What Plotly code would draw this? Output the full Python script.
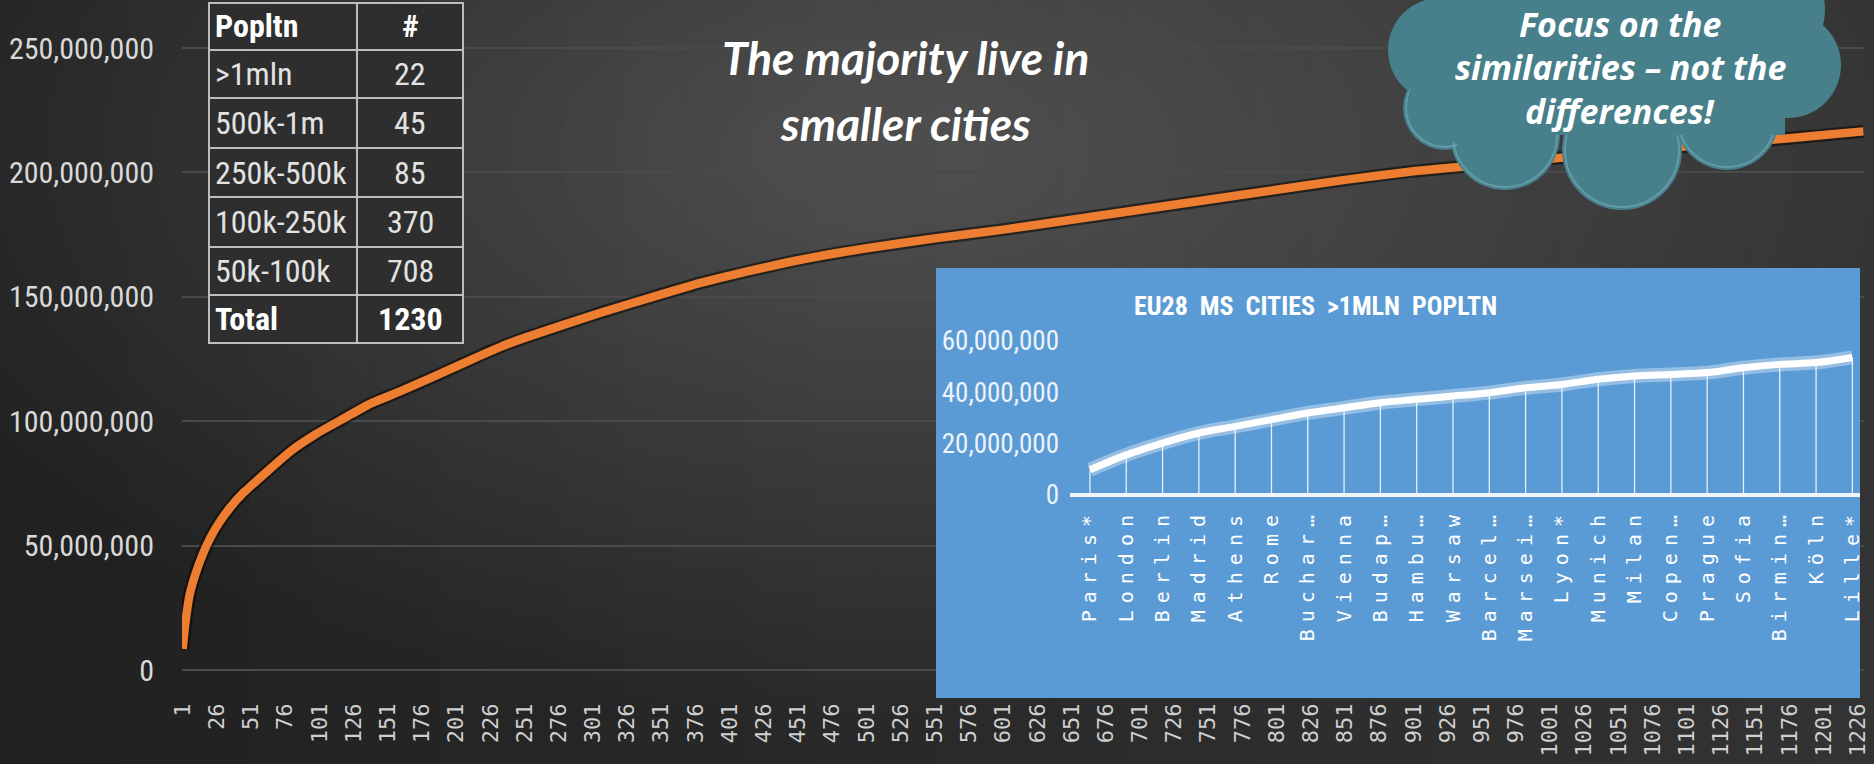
import plotly.graph_objects as go

# ---------------- data ----------------
# Main chart: cumulative population of EU cities (ranked), read at sample ranks
city_rank = [1, 3, 6, 10, 16, 22, 28, 36, 45, 64, 80, 99, 120, 138, 160, 185, 211, 233, 251, 306,
             351, 379, 401, 452, 501, 551, 601, 651, 701, 751, 801, 851, 901, 951, 1001, 1051,
             1101, 1151, 1201, 1230]
cum_pop = [8.5e6, 19e6, 30e6, 38e6, 47e6, 54e6, 59.5e6, 65.5e6, 71e6, 80.4e6, 88e6, 95e6, 101.5e6,
           107e6, 112e6, 118e6, 124.5e6, 129.8e6, 133.5e6, 143.5e6, 151e6, 155.5e6, 158.5e6,
           164.8e6, 169.5e6, 173.5e6, 177e6, 181e6, 185e6, 189e6, 193e6, 197e6, 200.5e6, 203e6,
           205.5e6, 208e6, 210.5e6, 212.5e6, 215e6, 216.5e6]
n_cities = 1230
x_tick_vals = list(range(1, n_cities + 1, 25))
x_tick_text = [str(v) for v in x_tick_vals]
y_tick_vals = [0, 50e6, 100e6, 150e6, 200e6, 250e6]

# Table
table_groups = ["Popltn", ">1mln", "500k-1m", "250k-500k", "100k-250k", "50k-100k", "Total"]
table_counts = ["#", "22", "45", "85", "370", "708", "1230"]

# Inset: EU28 MS cities > 1mln population (cumulative)
inset_cities = ["Paris*", "London", "Berlin", "Madrid", "Athens", "Rome", "Buchar…", "Vienna",
                "Budap…", "Hambu…", "Warsaw", "Barcel…", "Marsei…", "Lyon*", "Munich", "Milan",
                "Copen…", "Prague", "Sofia", "Birmin…", "Köln", "Lille*"]
inset_cum = [9.8e6, 15.6e6, 20.2e6, 24.1e6, 26.7e6, 29.3e6, 31.9e6, 33.9e6, 35.9e6, 37.2e6,
             38.5e6, 39.8e6, 41.7e6, 43.0e6, 45.0e6, 46.3e6, 46.9e6, 47.6e6, 49.5e6, 50.8e6,
             51.5e6, 53.5e6]
inset_y_ticks = [0, 20e6, 40e6, 60e6]

# ---------------- layout geometry (pixels) ----------------
W, H = 1874, 764
ML, MR, MT, MB = 182, 10, 0, 66
PL, PR, PT, PB = ML, W - MR, MT, H - MB


def px_x(px):
    return (px - PL) / (PR - PL)


def px_y(py):
    return (PB - py) / (PB - PT)


NARROW = "Liberation Sans Narrow, Arial Narrow, Roboto Condensed, sans-serif"
MONO = "DejaVu Sans Mono, Liberation Mono, monospace"

fig = go.Figure()

# main curve: shadow + orange line
fig.add_trace(go.Scatter(x=city_rank, y=cum_pop, mode="lines",
                         line=dict(color="rgba(10,5,0,0.55)", width=13, shape="spline", smoothing=0.5),
                         hoverinfo="skip", showlegend=False))
fig.add_trace(go.Scatter(x=city_rank, y=cum_pop, mode="lines",
                         line=dict(color="#ED7D31", width=8.5, shape="spline", smoothing=0.5),
                         showlegend=False))

# inset background (covers inset subplot domain)
ix_range = [-4.24, 21.21]
iy_range = [-79.0e6, 88.3e6]
fig.add_trace(go.Scatter(x=[ix_range[0], ix_range[1], ix_range[1], ix_range[0], ix_range[0]],
                         y=[iy_range[0], iy_range[0], iy_range[1], iy_range[1], iy_range[0]],
                         fill="toself", fillcolor="#5B9BD5", line=dict(width=0), mode="lines",
                         hoverinfo="skip", showlegend=False, xaxis="x2", yaxis="y2"))
idx = list(range(len(inset_cities)))
# drop lines
dx, dy = [], []
for i, v in zip(idx, inset_cum):
    dx += [i, i, None]
    dy += [0, v, None]
fig.add_trace(go.Scatter(x=dx, y=dy, mode="lines", line=dict(color="rgba(255,255,255,0.85)", width=1.3),
                         hoverinfo="skip", showlegend=False, xaxis="x2", yaxis="y2"))
# baseline
fig.add_trace(go.Scatter(x=[-0.55, len(inset_cities) - 0.45], y=[0, 0], mode="lines",
                         line=dict(color="rgba(255,255,255,0.9)", width=4),
                         hoverinfo="skip", showlegend=False, xaxis="x2", yaxis="y2"))
# glow + line
fig.add_trace(go.Scatter(x=idx, y=inset_cum, mode="lines",
                         line=dict(color="rgba(255,255,255,0.35)", width=14, shape="spline"),
                         hoverinfo="skip", showlegend=False, xaxis="x2", yaxis="y2"))
fig.add_trace(go.Scatter(x=idx, y=inset_cum, mode="lines",
                         line=dict(color="white", width=7, shape="spline"),
                         showlegend=False, xaxis="x2", yaxis="y2"))

shapes = []
# background gradient + soft glow
steps = 30
for k in range(steps):
    x0 = k * W / steps
    x1 = (k + 1) * W / steps + 1
    c = int(33 + 18 * k / (steps - 1))
    shapes.append(dict(type="rect", xref="paper", yref="paper", layer="below",
                       x0=px_x(x0), x1=px_x(x1), y0=px_y(H + 5), y1=px_y(-5),
                       fillcolor=f"rgb({c},{c},{c})", line=dict(width=0)))
rings = 36
for k in range(rings):
    rx = 1050 - k * 27
    ry = 560 - k * 14.5
    cx, cy = 880, 150
    shapes.append(dict(type="circle", xref="paper", yref="paper", layer="below",
                       x0=px_x(cx - rx), x1=px_x(cx + rx), y0=px_y(cy + ry), y1=px_y(cy - ry),
                       fillcolor="rgba(255,255,255,0.0065)", line=dict(width=0)))

# table
t_left, t_mid, t_right = 209, 357, 463
row_lines = [3, 50, 98, 148, 197, 247, 295, 343]
shapes.append(dict(type="rect", xref="paper", yref="paper", layer="above",
                   x0=px_x(t_left), x1=px_x(t_right), y0=px_y(row_lines[-1]), y1=px_y(row_lines[0]),
                   fillcolor="#2e2e2e", line=dict(color="#bdbdbd", width=2)))
for ry in row_lines[1:-1]:
    shapes.append(dict(type="line", xref="paper", yref="paper", layer="above",
                       x0=px_x(t_left), x1=px_x(t_right), y0=px_y(ry), y1=px_y(ry),
                       line=dict(color="#bdbdbd", width=2)))
shapes.append(dict(type="line", xref="paper", yref="paper", layer="above",
                   x0=px_x(t_mid), x1=px_x(t_mid), y0=px_y(row_lines[-1]), y1=px_y(row_lines[0]),
                   line=dict(color="#bdbdbd", width=2)))

# cloud
cloud_col = "#47808B"
circles = [(1440, 50, 52), (1445, 108, 42), (1505, 135, 55), (1622, 150, 60), (1727, 118, 52),
           (1788, 65, 53), (1770, 10, 55), (1620, 0, 90), (1500, 10, 65)]
for cx, cy, r in circles:
    shapes.append(dict(type="circle", xref="paper", yref="paper", layer="above",
                       x0=px_x(cx - r), x1=px_x(cx + r), y0=px_y(cy + r), y1=px_y(cy - r),
                       fillcolor=cloud_col, line=dict(width=0)))
# subtle bevel highlights on lower lobes
lobes = [(1505, 135, 55), (1622, 150, 60), (1727, 118, 52), (1445, 108, 42)]
for cx, cy, r in lobes:
    shapes.append(dict(type="circle", xref="paper", yref="paper", layer="above",
                       x0=px_x(cx - r + 3), x1=px_x(cx + r - 3), y0=px_y(cy + r - 3), y1=px_y(cy - r + 3),
                       fillcolor="rgba(0,0,0,0)", line=dict(color="rgba(150,205,215,0.35)", width=2)))
for cx, cy, r in lobes:
    shapes.append(dict(type="circle", xref="paper", yref="paper", layer="above",
                       x0=px_x(cx - r + 5), x1=px_x(cx + r - 5), y0=px_y(cy + r - 7), y1=px_y(cy - r - 3),
                       fillcolor=cloud_col, line=dict(width=0)))
shapes.append(dict(type="rect", xref="paper", yref="paper", layer="above",
                   x0=px_x(1450), x1=px_x(1785), y0=px_y(135), y1=px_y(-10),
                   fillcolor=cloud_col, line=dict(width=0)))

annotations = []
for i, (g, c) in enumerate(zip(table_groups, table_counts)):
    yc = (row_lines[i] + row_lines[i + 1]) / 2
    bold = i == 0 or i == len(table_groups) - 1
    f = dict(family=NARROW, size=32, color="white" if bold else "#e2e2e2", weight="bold" if bold else "normal")
    annotations.append(dict(x=px_x(t_left + 4), y=px_y(yc), xref="paper", yref="paper", text=g,
                            showarrow=False, xanchor="left", yanchor="middle", font=f))
    annotations.append(dict(x=px_x((t_mid + t_right) / 2), y=px_y(yc), xref="paper", yref="paper", text=c,
                            showarrow=False, xanchor="center", yanchor="middle", font=f))

title_font = dict(family="Lato, Open Sans, sans-serif", size=46, color="white", weight="bold", style="italic")
for txt, yc in [("The majority live in", 58), ("smaller cities", 124)]:
    annotations.append(dict(x=px_x(905), y=px_y(yc), xref="paper", yref="paper", text=txt, showarrow=False,
                            xanchor="center", yanchor="middle", font=title_font))

cloud_font = dict(family="Open Sans, sans-serif", size=34, color="white", weight="bold", style="italic")
for txt, yc in [("Focus on the", 24), ("similarities – not the", 67), ("differences!", 111)]:
    annotations.append(dict(x=px_x(1620), y=px_y(yc), xref="paper", yref="paper", text=txt, showarrow=False,
                            xanchor="center", yanchor="middle", font=cloud_font))

annotations.append(dict(x=px_x(1315), y=px_y(306), xref="paper", yref="paper",
                        text="EU28  MS  CITIES  >1MLN  POPLTN", showarrow=False,
                        xanchor="center", yanchor="middle",
                        font=dict(family=NARROW, size=26, color="white", weight="bold")))

fig.update_layout(
    width=W, height=H,
    margin=dict(l=ML, r=MR, t=MT, b=MB, pad=0, autoexpand=False),
    paper_bgcolor="#262626", plot_bgcolor="rgba(0,0,0,0)",
    showlegend=False,
    shapes=shapes, annotations=annotations,
    xaxis=dict(range=[0.5, n_cities + 0.5], tickmode="array", tickvals=x_tick_vals, ticktext=x_tick_text,
               tickangle=-90, tickfont=dict(family=MONO, size=22, color="#cfcfcf"),
               showgrid=False, zeroline=False, showline=False, automargin=False,
               ticks="", ticklen=0, ticklabelstandoff=0),
    yaxis=dict(range=[-11.25e6, 269.3e6], tickmode="array", tickvals=y_tick_vals, tickformat=",d",
               tickfont=dict(family=NARROW, size=30, color="#d9d9d9"),
               showgrid=True, gridcolor="#4a4a4a", gridwidth=1.5, zeroline=False, showline=False,
               automargin=False, ticks="", ticklen=0, ticklabelstandoff=27),
    xaxis2=dict(domain=[px_x(936), px_x(1860)], range=ix_range, anchor="free", position=px_y(495),
                tickmode="array", tickvals=idx, ticktext=inset_cities, tickangle=-90,
                tickfont=dict(family=MONO, size=20, color="white"), automargin=False,
                showgrid=False, zeroline=False, showline=False, ticks="", ticklen=0, ticklabelstandoff=8),
    yaxis2=dict(domain=[0, px_y(268)], range=iy_range, anchor="free", position=px_x(1063),
                tickmode="array", tickvals=inset_y_ticks, tickformat=",d", automargin=False,
                tickfont=dict(family=NARROW, size=27, color="#eef3fa"),
                showgrid=False, zeroline=False, showline=False, ticks="", ticklen=0, ticklabelstandoff=4),
)

post_js = """
document.documentElement.style.margin = '0';
document.body.style.margin = '0';
document.body.style.padding = '0';
document.body.style.overflow = 'hidden';
var gd = document.getElementById('{plot_id}');
function spaceInsetLabels() {
    gd.querySelectorAll('g.x2tick text').forEach(function (t) {
        t.style.letterSpacing = '7px';
    });
}
spaceInsetLabels();
gd.on('plotly_afterplot', spaceInsetLabels);
"""

fig.write_html("out.html", post_script=post_js, config={"displayModeBar": False})
